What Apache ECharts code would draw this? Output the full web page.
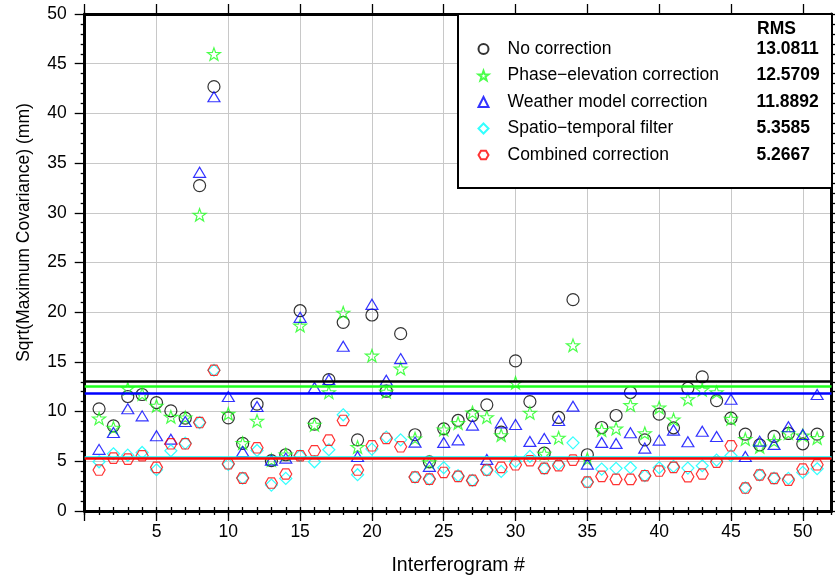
<!DOCTYPE html>
<html>
<head>
<meta charset="utf-8">
<script src="https://cdn.jsdelivr.net/npm/echarts@6/dist/echarts.min.js"></script>
<style>
html, body { margin: 0; padding: 0; background: #fff; }
#main { width: 835px; height: 581px; }
</style>
</head>
<body>
<div id="main"></div>
<script>
var interferograms = [1,2,3,4,5,6,7,8,9,10,11,12,13,14,15,16,17,18,19,20,21,22,23,24,25,
    26,27,28,29,30,31,32,33,34,35,36,37,38,39,40,41,42,43,44,45,46,47,48,49,50,51];

var noCorrection = [10.28,8.57,11.52,11.72,10.91,10.08,9.34,32.74,42.69,9.37,6.8,10.75,5.06,5.66,20.15,
    8.74,13.22,18.98,7.16,19.72,12.05,17.84,7.67,4.95,8.27,9.11,9.61,10.68,7.93,15.1,11.01,5.83,9.41,
    21.26,5.66,8.4,9.61,11.92,7.16,9.74,8.37,12.35,13.49,11.11,9.34,7.73,6.66,7.5,7.8,6.76,7.73];
var phaseElevation = [9.31,8.37,12.32,11.75,10.58,9.47,9.41,29.8,45.97,9.78,6.83,9.07,5.12,5.69,18.65,
    8.67,11.95,19.95,6.43,15.63,11.99,14.33,7.3,4.89,8.2,8.84,9.91,9.44,7.63,12.89,9.88,5.76,7.37,
    16.67,5.22,8.14,8.3,10.65,7.83,10.41,9.21,11.25,12.19,11.95,9.27,7.23,6.46,7.03,7.83,7.6,7.33];
var weatherModel = [6.2,7.9,10.28,9.57,7.57,7.23,9.0,34.07,41.68,11.52,5.99,10.51,5.12,5.32,19.48,
    12.42,13.22,16.57,5.49,20.79,13.16,15.33,6.93,4.49,6.9,7.16,8.64,5.19,8.87,8.7,7.0,7.3,9.11,
    10.55,4.72,6.9,6.8,7.87,6.33,7.13,8.14,6.96,8.03,7.5,11.25,5.49,7.03,6.7,8.47,7.7,11.72];
var spatioTemporal = [4.95,5.76,5.62,5.89,4.15,6.06,6.83,8.9,14.16,4.69,3.31,6.09,2.61,3.28,5.56,
    4.95,6.16,9.68,3.65,6.23,7.43,7.16,3.41,3.21,4.35,3.55,3.08,4.12,3.98,4.99,5.49,4.29,4.72,
    6.86,2.91,4.22,4.29,4.35,3.55,4.35,4.49,4.32,4.55,5.12,5.56,2.34,3.62,3.31,3.28,3.88,4.25];
var combined = [4.12,5.32,5.22,5.56,4.39,6.76,6.76,8.9,14.16,4.75,3.31,6.36,2.81,3.72,5.56,
    6.06,7.13,9.11,4.12,6.56,7.3,6.46,3.41,3.21,3.88,3.48,3.08,4.12,4.39,4.65,5.06,4.29,4.55,
    5.12,2.91,3.48,3.18,3.18,3.55,4.02,4.39,3.45,3.72,4.92,6.56,2.31,3.62,3.28,3.11,4.22,4.65];

var seriesNames = ['No correction', 'Phase\u2212elevation correction', 'Weather model correction',
    'Spatio\u2212temporal filter', 'Combined correction'];
var rmsValues = [13.0811, 12.5709, 11.8892, 5.3585, 5.2667];
var rmsLabels = ['13.0811', '12.5709', '11.8892', '5.3585', '5.2667'];
var xMajorTicks = [0,5,10,15,20,25,30,35,40,45,50];
var xTickLabels = [5,10,15,20,25,30,35,40,45,50];

var font = 'Liberation Sans, Arial, Helvetica, sans-serif';
var fs = 17.5;
var starPath = 'path://M0,-10L2.35,-3.24L9.51,-3.09L3.8,1.24L5.88,8.09L0,4L-5.88,8.09L-3.8,1.24L-9.51,-3.09L-2.35,-3.24Z';
var hexPath = 'path://M-5,-8.66L5,-8.66L10,0L5,8.66L-5,8.66L-10,0Z';

var dom = document.getElementById('main');
var myChart = echarts.init(dom, null, { renderer: 'canvas' });

function makeSeries(idx, values, symbol, size, color) {
    return {
        name: seriesNames[idx],
        type: 'scatter',
        xAxisIndex: 0,
        yAxisIndex: 0,
        symbol: symbol,
        symbolSize: size,
        symbolKeepAspect: true,
        itemStyle: { color: 'rgba(0,0,0,0)', borderColor: color, borderWidth: 1.2 },
        data: values.map(function (v, i) { return [interferograms[i], v]; }),
        markLine: {
            silent: true,
            symbol: 'none',
            label: { show: false },
            lineStyle: { color: color, width: 2.5, type: 'solid' },
            data: [{ yAxis: rmsValues[idx] }]
        }
    };
}

var axisLineStyle = { color: '#000', width: 3 };
var tickStyle = { color: '#000', width: 1.3 };
var gridStyle = { color: '#c8c8c8', width: 1 };

var option = {
    animation: false,
    backgroundColor: '#fff',
    grid: { left: 84.7, right: 3.5, top: 14, bottom: 70 },
    xAxis: [
        {
            type: 'value', position: 'bottom', min: 0, max: 52, interval: 5,
            axisLine: { onZero: false, lineStyle: axisLineStyle },
            axisTick: { show: true, length: 10, lineStyle: tickStyle, customValues: xMajorTicks },
            axisLabel: { customValues: xTickLabels, margin: 12, fontSize: fs, color: '#000', fontFamily: font },
            splitLine: { show: true, lineStyle: gridStyle },
            name: 'Interferogram #', nameLocation: 'middle', nameGap: 45,
            nameTextStyle: { fontSize: 19.5, color: '#000', fontFamily: font }
        },
        {
            type: 'value', position: 'bottom', min: 0, max: 52, interval: 1,
            axisLine: { show: false }, axisLabel: { show: false }, splitLine: { show: false },
            axisTick: { show: true, length: 4, lineStyle: tickStyle }
        },
        {
            type: 'value', position: 'top', min: 0, max: 52, interval: 5,
            axisLine: { onZero: false, lineStyle: axisLineStyle },
            axisTick: { show: true, length: 10, lineStyle: tickStyle, customValues: xMajorTicks },
            axisLabel: { show: false }, splitLine: { show: false }
        },
        {
            type: 'value', position: 'top', min: 0, max: 52, interval: 1,
            axisLine: { show: false }, axisLabel: { show: false }, splitLine: { show: false },
            axisTick: { show: true, length: 4, lineStyle: tickStyle }
        }
    ],
    yAxis: [
        {
            type: 'value', position: 'left', min: 0, max: 50, interval: 5,
            axisLine: { show: true, onZero: false, lineStyle: axisLineStyle },
            axisTick: { show: true, length: 10, lineStyle: tickStyle },
            minorTick: { show: true, splitNumber: 5, length: 4, lineStyle: tickStyle },
            axisLabel: { margin: 18, fontSize: fs, color: '#000', fontFamily: font },
            splitLine: { show: true, lineStyle: gridStyle },
            name: 'Sqrt(Maximum Covariance) (mm)', nameLocation: 'middle', nameGap: 52,
            nameTextStyle: { fontSize: fs, color: '#000', fontFamily: font, padding: [0, 0, 0, 60] }
        },
        {
            type: 'value', position: 'right', min: 0, max: 50, interval: 5,
            axisLine: { show: true, onZero: false, lineStyle: axisLineStyle },
            axisTick: { show: true, length: 10, lineStyle: tickStyle },
            minorTick: { show: true, splitNumber: 5, length: 4, lineStyle: tickStyle },
            axisLabel: { show: false }, splitLine: { show: false }
        }
    ],
    legend: {
        orient: 'vertical', left: 472.5, top: 34,
        itemWidth: 10, itemHeight: 10, itemGap: 6.5,
        selectedMode: false, z: 12,
        data: seriesNames,
        formatter: function (name) {
            var i = seriesNames.indexOf(name);
            return '{n|' + name + '}{v|' + rmsLabels[i] + '}';
        },
        textStyle: {
            fontSize: fs, color: '#000', fontFamily: font, lineHeight: 20,
            rich: {
                n: { width: 249, padding: [0, 0, 0, 14], fontSize: fs, fontFamily: font },
                v: { fontWeight: 'bold', fontSize: fs, fontFamily: font }
            }
        }
    },
    graphic: [
        {
            type: 'rect', z: 10,
            shape: { x: 458, y: 14, width: 374, height: 174 },
            style: { fill: '#fff', stroke: '#000', lineWidth: 2 }
        },
        {
            type: 'text', z: 12, left: 757, top: 20,
            style: { text: 'RMS', font: 'bold ' + fs + 'px ' + font, fill: '#000' }
        }
    ],
    series: [
        makeSeries(0, noCorrection, 'circle', 12, '#000000'),
        makeSeries(1, phaseElevation, starPath, 13, '#1eff1e'),
        makeSeries(2, weatherModel, 'triangle', [12, 10], '#0000ff'),
        makeSeries(3, spatioTemporal, 'diamond', 12, '#00ffff'),
        makeSeries(4, combined, hexPath, 12, '#ff0000')
    ]
};

myChart.setOption(option);
</script>
</body>
</html>
